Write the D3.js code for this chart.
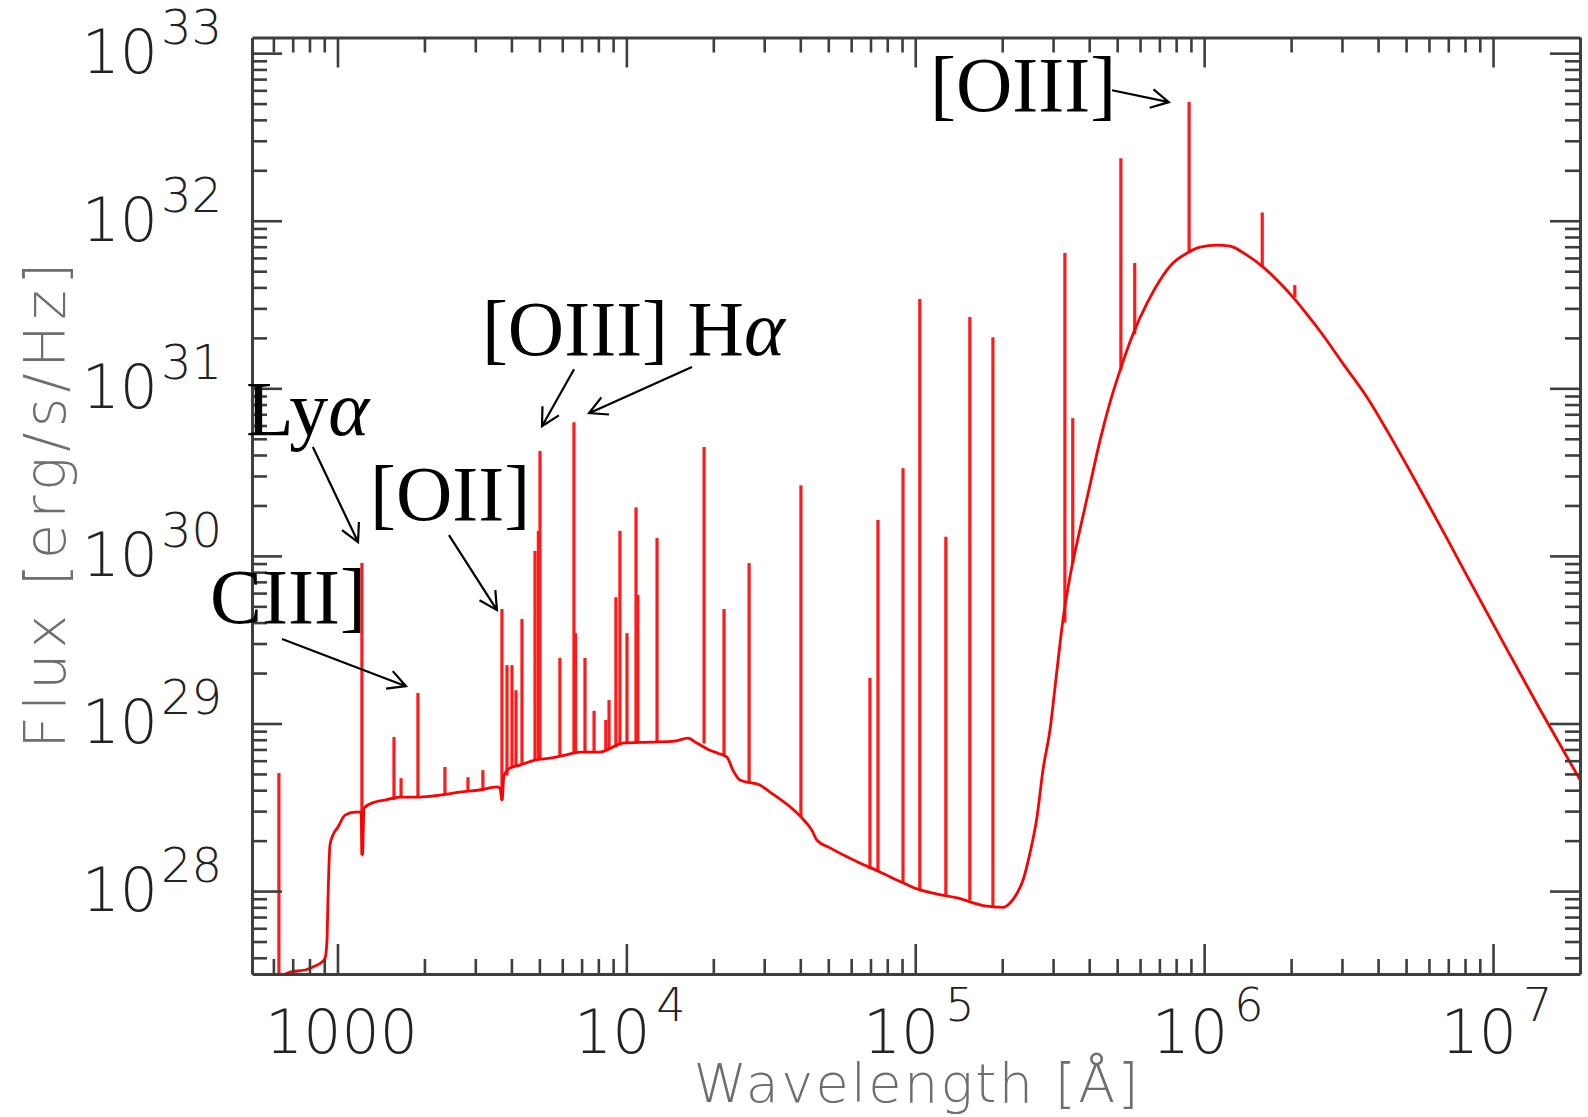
<!DOCTYPE html>
<html>
<head>
<meta charset="utf-8">
<script src="https://cdn.jsdelivr.net/npm/d3@7"></script>
<style>
  body { margin: 0; background: #fff; }
  svg { display: block; }
  .axis path, .axis line { stroke: #3e3e3e; }
  .tick-label { font-family: "DejaVu Sans", sans-serif; font-weight: 200; fill: #222; }
  .title { font-family: "DejaVu Sans", sans-serif; font-weight: 200; fill: #6e6e6e; }
  .anno { font-family: "Liberation Serif", serif; fill: #000; }
</style>
</head>
<body>
<div id="chart"></div>
<script>
var width = 1588,
  height = 1117;
var plotLeft = 252, plotRight = 1580, plotTop = 37.5, plotBottom = 974;

// continuum of the spectrum (wavelength in Angstrom, flux in erg/s/Hz)
var contWave = [583, 685, 773, 836, 884, 906, 920, 927, 942, 965,
  1004, 1062, 1150, 1206, 1221, 1235, 1349, 1459, 1644, 1930,
  2265, 2655, 3113, 3565, 3651, 3710, 3771, 3954, 4285, 4830,
  5445, 6138, 6910, 8105, 9730, 12070, 14730, 16330, 17540, 19450,
  20740, 22290, 23360, 24710, 28980, 31400, 40200, 43850, 45700, 50700,
  58000, 64400, 75500, 90700, 101400, 118900, 139500, 171700, 201300, 212900,
  225100, 236000, 249600, 263900, 276700, 292600, 309400, 324400, 343000, 371400,
  402400, 436300, 472500, 511600, 567400, 634300, 703300, 779900, 872200, 967800,
  1.109e6, 1.229e6, 1.406e6, 1.6e6, 1.829e6, 2.029e6, 2.268e6, 2.576e6, 3.02e6, 3.657e6,
  4.287e6, 5.025e6, 5.891e6, 6.91e6, 8.1e6, 1.055e7, 1.451e7, 2.03e7];
var contFlux = [2.75e27, 3.29e27, 3.38e27, 3.57e27, 3.77e27, 3.98e27, 5.1e27, 8.8e27, 1.88e28, 2.16e28,
  2.41e28, 2.84e28, 2.96e28, 2.96e28, 1.64e28, 3.13e28, 3.40e28, 3.49e28, 3.64e28, 3.64e28,
  3.74e28, 3.90e28, 4.01e28, 4.18e28, 4.12e28, 3.49e28, 4.92e28, 5.42e28, 5.65e28, 6.05e28,
  6.22e28, 6.48e28, 6.75e28, 6.75e28, 7.64e28, 7.74e28, 7.85e28, 8.18e28, 7.64e28, 6.93e28,
  6.65e28, 6.30e28, 5.28e28, 4.60e28, 4.29e28, 3.90e28, 2.77e28, 2.31e28, 2.01e28, 1.81e28,
  1.60e28, 1.47e28, 1.30e28, 1.12e28, 1.03e28, 9.6e27, 9.1e27, 8.2e27, 8.0e27, 8.5e27,
  9.7e27, 1.16e28, 1.69e28, 2.77e28, 5.27e28, 9.14e28, 2.08e29, 4.14e29, 7.48e29, 1.43e30,
  2.64e30, 4.91e30, 8.27e30, 1.28e31, 2.11e31, 3.22e31, 4.42e31, 5.59e31, 6.41e31, 6.96e31,
  7.15e31, 7.05e31, 6.23e31, 5.29e31, 4.25e31, 3.50e31, 2.77e31, 2.08e31, 1.41e31, 8.87e30,
  5.63e30, 3.48e30, 2.12e30, 1.28e30, 7.68e29, 3.32e29, 1.22e29, 4.41e28];

// emission lines: wavelength, peak flux, flux at the foot of the line
var lineWave = [627, 1215, 1569, 1660, 1899, 2355, 2830, 3187, 3710, 3862,
  4018, 4150, 4352, 4828, 4959, 5024, 5888, 6586, 6670, 7190,
  7730, 8490, 8710, 9200, 9500, 10050, 10800, 10960, 12770, 18580,
  21780, 26600, 40200, 69700, 74300, 90700, 103700, 127600, 154500, 185700,
  329600, 350900, 515000, 575000, 887000, 1.589e6, 2.06e6];
var linePeak = [5.06e28, 9.06e29, 8.30e28, 4.72e28, 1.52e29, 5.50e28, 4.78e28, 5.27e28, 4.82e29, 2.23e29,
  2.23e29, 1.58e29, 4.20e29, 1.07e30, 1.41e30, 4.22e30, 2.46e29, 6.28e30, 3.46e29, 2.46e29,
  1.19e29, 1.05e29, 1.38e29, 5.67e29, 1.41e30, 3.46e29, 1.95e30, 5.84e29, 1.28e30, 4.46e30,
  4.82e29, 9.06e29, 2.64e30, 1.87e29, 1.64e30, 3.34e30, 3.41e31, 1.30e30, 2.66e31, 2.02e31,
  6.41e31, 6.64e30, 2.36e32, 5.59e31, 5.11e32, 1.12e32, 4.13e31];
var lineBase = [2.7e27, 1.64e28, 3.49e28, 3.6e28, 3.64e28, 3.74e28, 3.9e28, 4.0e28, 3.49e28, 4.9e28,
  5.4e28, 5.5e28, 5.7e28, 6.0e28, 6.1e28, 6.1e28, 6.4e28, 6.6e28, 6.6e28, 6.7e28,
  6.7e28, 6.9e28, 7.0e28, 7.2e28, 7.4e28, 7.6e28, 7.7e28, 7.7e28, 7.8e28, 7.6e28,
  6.5e28, 4.4e28, 2.77e28, 1.35e28, 1.32e28, 1.12e28, 1.03e28, 9.5e27, 8.8e27, 8.1e27,
  4.0e29, 9.0e29, 1.28e31, 2.1e31, 6.4e31, 5.3e31, 3.5e31];

// tick labels
var xTicks = [1e3, 1e4, 1e5, 1e6, 1e7];
var xTickBase = ["1000", "10", "10", "10", "10"];
var xTickExp = ["", "4", "5", "6", "7"];
var yTicks = [1e28, 1e29, 1e30, 1e31, 1e32, 1e33];
var yTickExp = ["28", "29", "30", "31", "32", "33"];

// line identifications (text anchor, arrow start and arrow tip, in data units)
var labelText = ["[OIII]", "[OIII] Hα", "Lyα", "[OII]", "CIII]"];
var labelWave = [1.125e5, 3162, 482, 1296, 362];
var labelFlux = [4.51e32, 1.58e31, 5.26e30, 1.64e30, 3.97e29];
var arrowFromWave = [4.80e5, 6590, 16870, 822, 2432, 643];
var arrowFromFlux = [6.01e32, 1.30e31, 1.34e31, 4.46e30, 1.33e30, 3.19e29];
var arrowToWave = [7.55e5, 5105, 7430, 1178, 3565, 1726];
var arrowToFlux = [5.10e32, 5.94e30, 7.11e30, 1.21e30, 4.75e29, 1.67e29];

var x = d3.scaleLog()
  .domain([506, 2.0e7])
  .range([plotLeft, plotRight]);
var y = d3.scaleLog()
  .domain([3.2e27, 1.24e33])
  .range([plotBottom, plotTop]);

var svg = d3.select("#chart").append("svg")
  .attr("width", width)
  .attr("height", height);

svg.append("clipPath").attr("id", "plot-clip")
  .append("rect")
  .attr("x", plotLeft).attr("y", plotTop)
  .attr("width", plotRight - plotLeft).attr("height", plotBottom - plotTop);

var plot = svg.append("g").attr("clip-path", "url(#plot-clip)");

var continuum = contWave.map(function(w, i) { return [w, contFlux[i]]; });
var line = d3.line()
  .curve(d3.curveMonotoneX)
  .x(function(d) { return x(d[0]); })
  .y(function(d) { return y(d[1]); });

plot.selectAll(".eline")
  .data(lineWave)
  .enter().append("line")
    .attr("class", "eline")
    .attr("x1", function(d) { return x(d); })
    .attr("x2", function(d) { return x(d); })
    .attr("y1", function(d, i) { return y(lineBase[i]); })
    .attr("y2", function(d, i) { return y(linePeak[i]); })
    .attr("stroke", "#ff1a1a")
    .attr("stroke-width", 3.2);

plot.append("path")
  .datum(continuum)
  .attr("fill", "none")
  .attr("stroke", "#ff0000")
  .attr("stroke-width", 2.8)
  .attr("stroke-linejoin", "round")
  .attr("d", line);

// axes, ticks pointing inwards on all four sides
function isMajor(d) {
  var l = Math.log10(d);
  return Math.abs(l - Math.round(l)) < 1e-9;
}
var xt = x.ticks(), yt = y.ticks();

function styleAxis(g, attr, sign) {
  g.attr("class", "axis");
  g.select(".domain").attr("stroke-width", 3);
  g.selectAll(".tick line")
    .attr("stroke-width", 2.6)
    .attr(attr, function(d) { return sign * (isMajor(d) ? 30 : 15); });
  g.selectAll(".tick text").remove();
}

svg.append("g")
  .attr("transform", "translate(0," + plotBottom + ")")
  .call(d3.axisBottom(x).tickValues(xt).tickSize(-15).tickSizeOuter(0))
  .call(styleAxis, "y2", -1);
svg.append("g")
  .attr("transform", "translate(0," + plotTop + ")")
  .call(d3.axisTop(x).tickValues(xt).tickSize(-15).tickSizeOuter(0))
  .call(styleAxis, "y2", 1);
svg.append("g")
  .attr("transform", "translate(" + plotLeft + ",0)")
  .call(d3.axisLeft(y).tickValues(yt).tickSize(-15).tickSizeOuter(0))
  .call(styleAxis, "x2", 1);
svg.append("g")
  .attr("transform", "translate(" + plotRight + ",0)")
  .call(d3.axisRight(y).tickValues(yt).tickSize(-15).tickSizeOuter(0))
  .call(styleAxis, "x2", -1);

// y tick labels 10^n
yTicks.forEach(function(v, i) {
  svg.append("text").attr("class", "tick-label")
    .attr("x", 158).attr("y", y(v) + 20)
    .attr("text-anchor", "end")
    .style("font-size", "60px")
    .text("10");
  svg.append("text").attr("class", "tick-label")
    .attr("x", 161).attr("y", y(v) - 9)
    .style("font-size", "48px")
    .text(yTickExp[i]);
});

// x tick labels
xTicks.forEach(function(v, i) {
  if (!xTickExp[i]) {
    svg.append("text").attr("class", "tick-label")
      .attr("x", x(v) + 4).attr("y", 1053)
      .attr("text-anchor", "middle")
      .style("font-size", "60px")
      .text(xTickBase[i]);
  } else {
    svg.append("text").attr("class", "tick-label")
      .attr("x", x(v) + 24).attr("y", 1053)
      .attr("text-anchor", "end")
      .style("font-size", "60px")
      .text(xTickBase[i]);
    svg.append("text").attr("class", "tick-label")
      .attr("x", x(v) + 30).attr("y", 1021)
      .style("font-size", "46px")
      .text(xTickExp[i]);
  }
});

// axis titles
svg.append("text").attr("class", "title")
  .attr("x", (plotLeft + plotRight) / 2).attr("y", 1102)
  .attr("text-anchor", "middle")
  .attr("textLength", 445)
  .attr("lengthAdjust", "spacing")
  .style("font-size", "54px")
  .text("Wavelength [Å]");

svg.append("text").attr("class", "title")
  .attr("transform", "translate(65," + ((plotTop + plotBottom) / 2) + ") rotate(-90)")
  .attr("text-anchor", "middle")
  .attr("textLength", 486)
  .attr("lengthAdjust", "spacing")
  .style("font-size", "57px")
  .text("Flux [erg/s/Hz]");

// annotations
labelText.forEach(function(t, i) {
  var txt = svg.append("text").attr("class", "anno")
    .attr("x", x(labelWave[i])).attr("y", y(labelFlux[i]))
    .style("font-size", "78px");
  t.split("α").forEach(function(part, j) {
    if (j > 0) {
      txt.append("tspan").style("font-style", "italic").text("α");
    }
    if (part) txt.append("tspan").text(part);
  });
});

arrowToWave.forEach(function(w, i) {
  var x0 = x(arrowFromWave[i]), y0 = y(arrowFromFlux[i]);
  var x1 = x(w), y1 = y(arrowToFlux[i]);
  var a = Math.atan2(y1 - y0, x1 - x0);
  var h = 20, s = 28 * Math.PI / 180;
  var p = d3.path();
  p.moveTo(x0, y0);
  p.lineTo(x1, y1);
  p.moveTo(x1 - h * Math.cos(a - s), y1 - h * Math.sin(a - s));
  p.lineTo(x1, y1);
  p.lineTo(x1 - h * Math.cos(a + s), y1 - h * Math.sin(a + s));
  svg.append("path")
    .attr("d", p.toString())
    .attr("fill", "none")
    .attr("stroke", "#000")
    .attr("stroke-width", 2.2);
});
</script>
</body>
</html>
